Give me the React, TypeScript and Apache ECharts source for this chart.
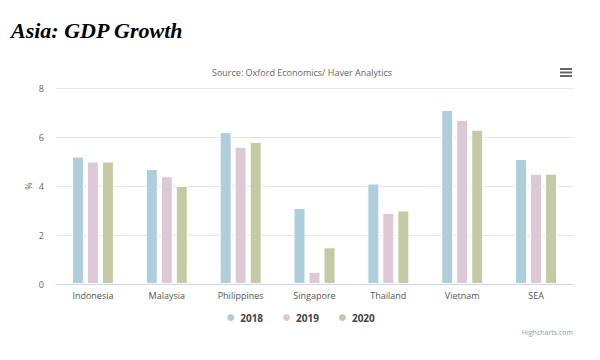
import React, { useEffect, useRef } from "react";
import * as echarts from "echarts";

const categories = ["Indonesia", "Malaysia", "Philippines", "Singapore", "Thailand", "Vietnam", "SEA"];
const years = ["2018", "2019", "2020"];
const values2018 = [5.2, 4.7, 6.2, 3.1, 4.1, 7.1, 5.1];
const values2019 = [5.0, 4.4, 5.6, 0.5, 2.9, 6.7, 4.5];
const values2020 = [5.0, 4.0, 5.8, 1.5, 3.0, 6.3, 4.5];
const colors = ["#afcedb", "#ddc9d5", "#c6caa4"];

export default function App() {
  const ref = useRef<HTMLDivElement>(null);
  useEffect(() => {
    if (!ref.current) return;
    const chart = echarts.init(ref.current, null, { renderer: "svg" });
    const data = [values2018, values2019, values2020];
    chart.setOption({
      animation: false,
      backgroundColor: "#ffffff",
      textStyle: { fontFamily: "Open Sans, sans-serif" },
      title: [
        {
          text: "Asia: GDP Growth",
          left: 6,
          top: 14,
          textStyle: {
            fontFamily: "Liberation Serif, serif",
            fontStyle: "italic",
            fontWeight: "bold",
            fontSize: 22,
            color: "#000000",
          },
        },
        {
          text: "Source: Oxford Economics/ Haver Analytics",
          left: 297,
          textAlign: "center",
          top: 63,
          textStyle: { fontSize: 9, fontWeight: "normal", color: "#666666", fontFamily: "Open Sans, sans-serif" },
        },
      ],
      legend: {
        data: years,
        bottom: 32,
        left: "center",
        icon: "circle",
        itemWidth: 9,
        itemHeight: 9,
        itemGap: 18,
        textStyle: { fontSize: 10, fontWeight: "bold", color: "#444444", fontFamily: "Open Sans, sans-serif" },
      },
      grid: { left: 56, right: 27, top: 88, bottom: 76 },
      xAxis: {
        type: "category",
        data: categories,
        axisTick: { show: false },
        axisLine: { lineStyle: { color: "#ccd6eb" } },
        axisLabel: { fontSize: 9, color: "#555555", margin: 7 },
      },
      yAxis: {
        type: "value",
        min: 0,
        max: 8,
        interval: 2,
        axisLabel: { fontSize: 9, color: "#666666", margin: 12 },
        splitLine: { lineStyle: { color: "#e6e6e6" } },
        axisLine: { show: false },
        axisTick: { show: false },
      },
      series: years.map((y, i) => ({
        name: y,
        type: "bar",
        data: data[i],
        barWidth: 12,
        barGap: "25%",
        itemStyle: { color: colors[i], borderColor: "#ffffff", borderWidth: 1 },
      })),
      graphic: [
        { type: "rect", shape: { x: 560, y: 68, width: 12, height: 2 }, style: { fill: "#666666" } },
        { type: "rect", shape: { x: 560, y: 71.5, width: 12, height: 2 }, style: { fill: "#666666" } },
        { type: "rect", shape: { x: 560, y: 75, width: 12, height: 2 }, style: { fill: "#666666" } },
        {
          type: "text",
          x: 28,
          y: 186,
          rotation: Math.PI / 2,
          style: {
            text: "%",
            fontSize: 9,
            fill: "#666666",
            fontFamily: "Open Sans, sans-serif",
            align: "center",
            verticalAlign: "middle",
          },
        },
        {
          type: "text",
          right: 27,
          top: 329,
          style: { text: "Highcharts.com", fontSize: 7, fill: "#999999", fontFamily: "Open Sans, sans-serif" },
        },
      ],
    });
    return () => chart.dispose();
  }, []);
  return <div ref={ref} style={{ width: 600, height: 360, margin: -8 }} />;
}
